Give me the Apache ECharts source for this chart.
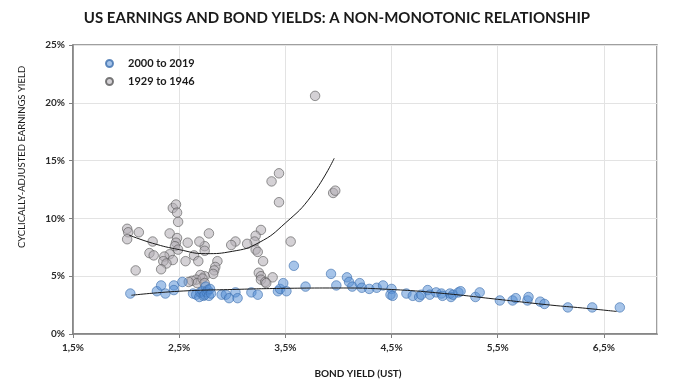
<!DOCTYPE html>
<html>
<head>
<meta charset="utf-8">
<script src="https://cdn.jsdelivr.net/npm/echarts@6/dist/echarts.min.js"></script>
<style>html,body{margin:0;padding:0;background:#fff}#c{width:674px;height:387px}</style>
</head>
<body>
<div id="c"></div>
<script>
// ---- Data ----
const titleText = 'US EARNINGS AND BOND YIELDS: A NON-MONOTONIC RELATIONSHIP';
const seriesNames = ['2000 to 2019', '1929 to 1946'];
const xTickLabels = ['1,5%', '2,5%', '3,5%', '4,5%', '5,5%', '6,5%'];
const yTickLabels = ['0%', '5%', '10%', '15%', '20%', '25%'];

// 2000 to 2019 : bond yield (%), earnings yield (%)
const recentX = [2.04,2.29,2.33,2.37,2.45,2.45,2.53,2.63,2.66,2.69,2.70,2.72,2.73,2.74,2.75,2.76,2.77,2.78,2.79,2.80,
  2.90,2.94,2.97,3.03,3.05,3.18,3.24,3.43,3.45,3.48,3.51,3.58,3.69,3.93,3.98,4.08,4.10,4.13,4.20,4.22,
  4.29,4.36,4.42,4.50,4.49,4.51,4.64,4.70,4.76,4.78,4.84,4.86,4.92,4.97,4.98,5.05,5.06,5.08,5.13,5.15,
  5.29,5.33,5.52,5.64,5.67,5.78,5.79,5.90,5.94,6.16,6.39,6.65];
const recentY = [3.5,3.7,4.2,3.5,4.2,3.8,4.5,3.5,3.4,3.2,3.6,3.7,3.3,3.4,4.1,3.6,3.8,3.3,3.9,3.5,
  3.4,3.4,3.1,3.6,3.1,3.6,3.4,3.7,3.9,4.4,3.7,5.9,4.1,5.2,4.2,4.9,4.5,4.1,4.4,4.0,
  3.9,4.0,4.2,3.9,3.4,3.3,3.5,3.3,3.2,3.4,3.8,3.4,3.6,3.5,3.3,3.5,3.2,3.4,3.6,3.7,
  3.2,3.6,2.9,2.9,3.1,2.9,3.2,2.8,2.6,2.3,2.3,2.3];

// 1929 to 1946
const oldX = [3.78,3.95,3.97,3.37,3.44,3.44,3.55,3.27,3.22,3.21,3.14,3.03,2.99,3.22,3.24,3.29,3.25,3.27,3.27,3.31,
  3.38,2.78,2.74,2.74,2.69,2.64,2.68,2.86,2.84,2.83,2.82,2.74,2.70,2.66,2.62,2.67,2.44,2.47,2.48,2.49,
  2.01,2.02,2.01,2.12,2.41,2.25,2.48,2.47,2.46,2.49,2.58,2.22,2.26,2.41,2.36,2.35,2.44,2.38,2.56,2.33,
  2.09,2.59,2.72,2.74,3.32];
const oldY = [20.6,12.2,12.4,13.2,13.9,11.4,8.0,9.0,8.5,8.0,7.8,8.0,7.7,7.3,7.1,6.3,5.3,5.0,4.7,4.5,
  4.9,8.7,7.6,7.2,8.0,6.8,6.3,6.3,5.8,5.5,5.2,5.0,5.1,4.7,4.6,4.4,10.9,11.2,10.5,9.7,
  9.1,8.8,8.2,8.8,8.7,8.0,8.3,7.9,7.6,7.3,7.9,7.0,6.8,6.9,6.7,6.3,6.4,6.1,6.3,5.6,
  5.5,4.5,4.8,4.4,4.4];

// Trend lines
const recentTrendX = [2.05,2.5,3.0,3.5,4.0,4.5,5.0,5.5,6.0,6.3,6.62];
const recentTrendY = [3.35,3.7,3.85,3.95,3.98,3.85,3.5,3.0,2.5,2.25,1.95];
const oldTrendX = [2.03,2.25,2.5,2.75,3.0,3.25,3.5,3.75,3.96];
const oldTrendY = [8.55,7.85,7.3,6.95,7.15,7.9,9.6,12.0,15.2];

const zip = (a, b) => a.map((v, i) => [v, b[i]]);
const font = 'Lato, "Open Sans", sans-serif';

const chart = echarts.init(document.getElementById('c'), null, {renderer: 'canvas'});
chart.setOption({
  animation: false,
  backgroundColor: '#ffffff',
  title: {
    text: titleText, left: 'center', top: 6,
    textStyle: {fontFamily: font, fontWeight: 'bold', fontSize: 15, color: '#1a1a1a'}
  },
  legend: {
    data: seriesNames, orient: 'vertical', left: 100, top: 53, itemGap: 7,
    icon: 'circle', itemWidth: 7, itemHeight: 7,
    textStyle: {fontFamily: font, fontWeight: 'bold', fontSize: 11, color: '#1a1a1a', padding: [0, 0, 0, 10]}
  },
  grid: {left: 73, right: 17, top: 45, bottom: 53, show: true, borderColor: '#808080', borderWidth: 1.5},
  xAxis: [
    {type: 'value', min: 1.5, max: 7, show: false, position: 'top'},
    {type: 'value', min: 0, max: 5.5, interval: 1, position: 'bottom',
      axisLine: {show: true, lineStyle: {color: '#808080', width: 1.5}},
      axisTick: {show: true, length: 4, lineStyle: {color: '#808080'}},
      axisLabel: {showMaxLabel: false, margin: 9, fontFamily: font, fontWeight: 'bold', fontSize: 10, color: '#2a2a2a',
        formatter: v => xTickLabels[Math.round(v)] || ''},
      splitLine: {show: true, lineStyle: {color: '#e3e3e3', width: 1}}
    }
  ],
  yAxis: {
    type: 'value', min: 0, max: 25, interval: 5,
    axisLine: {show: true, lineStyle: {color: '#808080', width: 1.5}},
    axisTick: {show: true, length: 4, lineStyle: {color: '#808080'}},
    axisLabel: {margin: 8, fontFamily: font, fontWeight: 'bold', fontSize: 10, color: '#2a2a2a',
      formatter: v => yTickLabels[Math.round(v / 5)]},
    splitLine: {show: true, lineStyle: {color: '#e3e3e3', width: 1}}
  },
  graphic: [
    {type: 'text', x: 22, y: 157, rotation: Math.PI / 2,
      style: {text: 'CYCLICALLY-ADJUSTED EARNINGS YIELD', fontFamily: font, fontSize: 9.5, fill: '#1a1a1a',
        align: 'center', verticalAlign: 'middle'}},
    {type: 'text', x: 358, y: 374,
      style: {text: 'BOND YIELD (UST)', fontFamily: font, fontWeight: 'bold', fontSize: 10, fill: '#1a1a1a',
        align: 'center', verticalAlign: 'middle'}}
  ],
  series: [
    {name: seriesNames[0], type: 'scatter', xAxisIndex: 0, z: 4, symbolSize: 9.5,
      data: zip(recentX, recentY),
      itemStyle: {color: 'rgba(84,141,212,0.65)', borderColor: '#3d6fae', borderWidth: 0.8}},
    {name: seriesNames[1], type: 'scatter', xAxisIndex: 0, z: 3, symbolSize: 9.5,
      data: zip(oldX, oldY),
      itemStyle: {color: 'rgba(178,173,180,0.7)', borderColor: '#5a5a5a', borderWidth: 0.8}},
    {name: 'trend2000', type: 'line', xAxisIndex: 0, z: 5, smooth: true, showSymbol: false, silent: true,
      data: zip(recentTrendX, recentTrendY), lineStyle: {color: '#1a1a1a', width: 1}},
    {name: 'trend1929', type: 'line', xAxisIndex: 0, z: 5, smooth: true, showSymbol: false, silent: true,
      data: zip(oldTrendX, oldTrendY), lineStyle: {color: '#1a1a1a', width: 1}}
  ]
});
</script>
</body>
</html>
